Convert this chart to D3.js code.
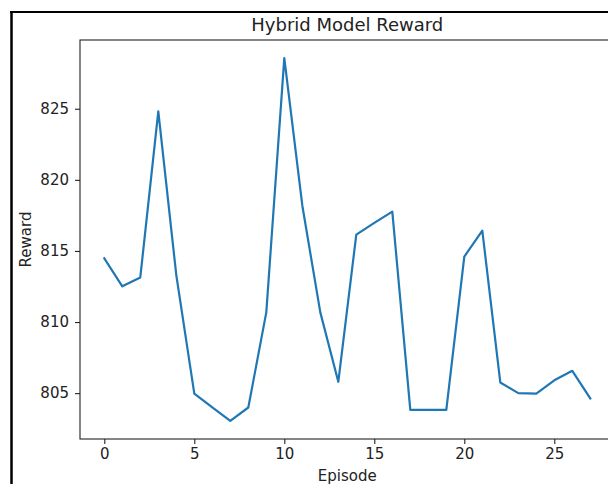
<!DOCTYPE html>
<html>
<head>
<meta charset="utf-8">
<script src="https://cdn.jsdelivr.net/npm/d3@7"></script>
<style>
  html, body { margin: 0; padding: 0; background: #fff; }
  svg { display: block; }
  text { font-family: "DejaVu Sans", sans-serif; fill: #222; }
</style>
</head>
<body>
<svg id="chart" width="608" height="484"></svg>
<script>
// Reward per episode for the hybrid model
const episodes = [0, 1, 2, 3, 4, 5, 6, 7, 8, 9, 10, 11, 12, 13,
                  14, 15, 16, 17, 18, 19, 20, 21, 22, 23, 24, 25, 26, 27];
const rewards = [814.48, 812.51, 813.14, 824.81, 813.3, 804.97, 804.0, 803.05,
                 803.99, 810.68, 828.56, 818.2, 810.68, 805.8, 816.15, 816.97,
                 817.77, 803.82, 803.82, 803.82, 814.6, 816.43, 805.75, 805.0,
                 804.97, 805.9, 806.57, 804.62];
const xTicks = [0, 5, 10, 15, 20, 25];
const yTicks = [805, 810, 815, 820, 825];

const svg = d3.select("#chart");

// Plot area (the right side runs past the visible canvas)
const plotLeft = 80, plotTop = 40, plotRight = 614.6, plotBottom = 439;

// Outer frame around the figure
svg.append("line").attr("x1", 11.5).attr("x2", 11.5).attr("y1", 11).attr("y2", 484)
  .attr("stroke", "#000").attr("stroke-width", 2.5);
svg.append("line").attr("x1", 10).attr("x2", 608).attr("y1", 12).attr("y2", 12)
  .attr("stroke", "#000").attr("stroke-width", 2);

// 5% margins on both axes, like the usual autoscale
const xExt = d3.extent(episodes), yExt = d3.extent(rewards);
const xPad = (xExt[1] - xExt[0]) * 0.05, yPad = (yExt[1] - yExt[0]) * 0.05;
const x = d3.scaleLinear().domain([xExt[0] - xPad, xExt[1] + xPad]).range([plotLeft, plotRight]);
const y = d3.scaleLinear().domain([yExt[0] - yPad, yExt[1] + yPad]).range([plotBottom, plotTop]);

// Axes
const xAxis = d3.axisBottom(x).tickValues(xTicks).tickFormat(d3.format("d"))
  .tickSize(5).tickPadding(4).tickSizeOuter(0);
const yAxis = d3.axisLeft(y).tickValues(yTicks).tickFormat(d3.format("d"))
  .tickSize(5).tickPadding(6).tickSizeOuter(0);

const gx = svg.append("g").attr("transform", `translate(0,${plotBottom})`).call(xAxis);
const gy = svg.append("g").attr("transform", `translate(${plotLeft},0)`).call(yAxis);
[gx, gy].forEach(g => {
  g.select(".domain").remove();
  g.selectAll(".tick line").attr("stroke", "#222").attr("stroke-width", 1.1);
  g.selectAll(".tick text").attr("font-size", 15).attr("fill", "#222")
    .style("font-family", '"DejaVu Sans", sans-serif');
});

// Data line
const line = d3.line().x((d, i) => x(episodes[i])).y(d => y(d));
svg.append("path").datum(rewards)
  .attr("d", line)
  .attr("fill", "none")
  .attr("stroke", "#1f77b4")
  .attr("stroke-width", 2.2)
  .attr("stroke-linejoin", "round")
  .attr("stroke-linecap", "square");

// Spines
svg.append("rect")
  .attr("x", plotLeft).attr("y", plotTop)
  .attr("width", plotRight - plotLeft).attr("height", plotBottom - plotTop)
  .attr("fill", "none").attr("stroke", "#222").attr("stroke-width", 1.1);

// Title and axis labels
svg.append("text").attr("x", (plotLeft + plotRight) / 2).attr("y", 31)
  .attr("text-anchor", "middle").attr("font-size", 18).text("Hybrid Model Reward");
svg.append("text").attr("x", (plotLeft + plotRight) / 2).attr("y", 481)
  .attr("text-anchor", "middle").attr("font-size", 15).text("Episode");
svg.append("text")
  .attr("transform", `translate(31,${(plotTop + plotBottom) / 2}) rotate(-90)`)
  .attr("text-anchor", "middle").attr("font-size", 15).text("Reward");
</script>
</body>
</html>
